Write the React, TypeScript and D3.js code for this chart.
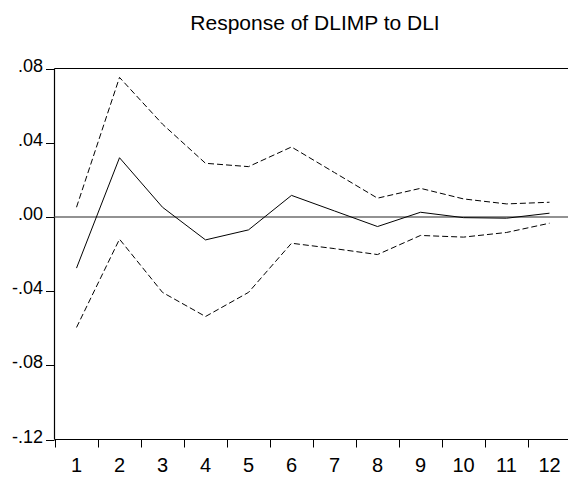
import { useEffect, useRef } from 'react';
import * as d3 from 'd3';

const periods = [1, 2, 3, 4, 5, 6, 7, 8, 9, 10, 11, 12];
const response = [-0.0276, 0.0319, 0.0052, -0.0124, -0.007, 0.0116, 0.0032, -0.0052, 0.0025, -0.0004, -0.0007, 0.002];
const upperBand = [0.0052, 0.0752, 0.05, 0.0289, 0.0271, 0.0377, 0.0239, 0.0101, 0.0154, 0.0097, 0.007, 0.0079];
const lowerBand = [-0.0596, -0.012, -0.0407, -0.0537, -0.0407, -0.0142, -0.0171, -0.0203, -0.01, -0.0109, -0.0084, -0.0034];
const yTicks = [0.08, 0.04, 0, -0.04, -0.08, -0.12];
const yTickLabels = ['.08', '.04', '.00', '-.04', '-.08', '-.12'];
const title = 'Response of DLIMP to DLI';

const W = 568;
const H = 478;

const App = () => {
  const svgRef = useRef<SVGSVGElement>(null);

  useEffect(() => {
    if (!svgRef.current) return;
    const svg = d3.select(svgRef.current);
    svg.selectAll('*').remove();

    const left = 54.5;
    const top = 68.5;
    const bottom = 439.5;

    const x = d3.scaleBand<number>().domain(periods).range([55, 571]).padding(0);
    const y = d3.scaleLinear().domain([-0.12, 0.08]).range([bottom, top]);
    const cx = (p: number) => (x(p) as number) + x.bandwidth() / 2;

    // title
    svg.append('text')
      .attr('x', 315)
      .attr('y', 30)
      .attr('text-anchor', 'middle')
      .style('font-family', 'Liberation Sans, Arial, sans-serif')
      .style('font-size', '21px')
      .text(title);

    // frame: top border, left axis, bottom axis
    svg.append('line')
      .attr('x1', left).attr('x2', W).attr('y1', top).attr('y2', top)
      .attr('stroke', '#000').attr('stroke-width', 1.2);
    svg.append('line')
      .attr('x1', left).attr('x2', left).attr('y1', top).attr('y2', bottom)
      .attr('stroke', '#000').attr('stroke-width', 1.2);
    svg.append('line')
      .attr('x1', left).attr('x2', W).attr('y1', bottom).attr('y2', bottom)
      .attr('stroke', '#000').attr('stroke-width', 1.2);

    // y ticks + labels
    yTicks.forEach((t, i) => {
      const yy = Math.round(y(t)) + 0.5;
      svg.append('line')
        .attr('x1', 46).attr('x2', left).attr('y1', yy).attr('y2', yy)
        .attr('stroke', '#000').attr('stroke-width', 1);
      svg.append('text')
        .attr('x', 43)
        .attr('y', yy + 2.5)
        .attr('text-anchor', 'end')
        .style('font-family', 'Liberation Sans, Arial, sans-serif')
        .style('font-size', '18px')
        .text(yTickLabels[i]);
    });

    // x ticks at band edges + labels
    periods.forEach((p) => {
      const xx = Math.round(x(p) as number) + 0.5;
      svg.append('line')
        .attr('x1', xx).attr('x2', xx).attr('y1', bottom).attr('y2', bottom + 8)
        .attr('stroke', '#000').attr('stroke-width', 1);
      svg.append('text')
        .attr('x', cx(p))
        .attr('y', 472)
        .attr('text-anchor', 'middle')
        .style('font-family', 'Liberation Sans, Arial, sans-serif')
        .style('font-size', '20px')
        .text(String(p));
    });

    // zero line
    svg.append('line')
      .attr('x1', left).attr('x2', W).attr('y1', y(0)).attr('y2', y(0))
      .attr('stroke', '#6e6e6e').attr('stroke-width', 1.5);

    const line = d3.line<number>()
      .x((_, i) => cx(periods[i]))
      .y((d) => y(d));

    svg.append('path')
      .attr('d', line(upperBand))
      .attr('fill', 'none')
      .attr('stroke', '#000')
      .attr('stroke-width', 1)
      .attr('stroke-dasharray', '6,3');
    svg.append('path')
      .attr('d', line(lowerBand))
      .attr('fill', 'none')
      .attr('stroke', '#000')
      .attr('stroke-width', 1)
      .attr('stroke-dasharray', '6,3');
    svg.append('path')
      .attr('d', line(response))
      .attr('fill', 'none')
      .attr('stroke', '#000')
      .attr('stroke-width', 1);
  }, []);

  return (
    <svg
      ref={svgRef}
      width={W}
      height={H}
      style={{ position: 'absolute', left: 0, top: 0, background: '#fff' }}
    />
  );
};

export default App;
